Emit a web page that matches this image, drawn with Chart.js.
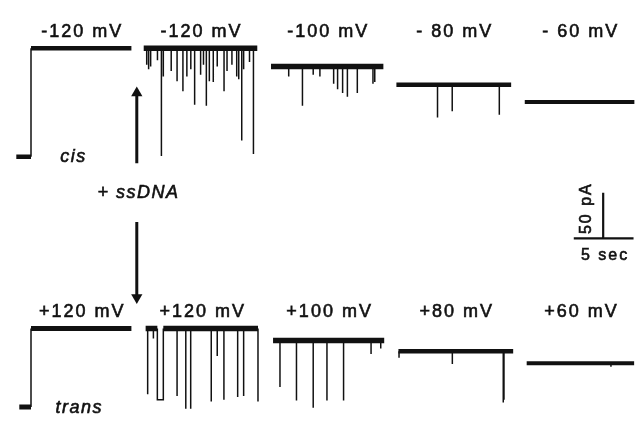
<!DOCTYPE html>
<html>
<head>
<meta charset="utf-8">
<script src="https://cdn.jsdelivr.net/npm/chart.js@4.4.1/dist/chart.umd.min.js"></script>
<style>
  html, body { margin: 0; padding: 0; background: #fff; }
  canvas { display: block; }
</style>
</head>
<body>
<canvas id="traces" width="641" height="428"></canvas>
<script>
// Single-channel current traces, cis (top) and trans (bottom) addition of ssDNA
const cisVoltages = ['-120 mV', '-120 mV', '-100 mV', '- 80 mV', '- 60 mV'];
const transVoltages = ['+120 mV', '+120 mV', '+100 mV', '+80 mV', '+60 mV'];

// open-pore current (pA) and record length (sec)
const cisBaseline = [119, 119, 99, 79, 60];
const transBaseline = [86, 86, 73, 61, 48];
const cisDuration = [8.4, 9.5, 9.4, 9.6, 9.2];
const transDuration = [8.4, 9.4, 9.3, 9.6, 9.0];

// blockade events: [time from record start (sec), blocked current (pA), duration (sec, optional)]
const cisEvents = [
  [],
  [[0.25, 101], [0.41, 96], [0.58, 99], [1.15, 106], [1.48, 1], [1.64, 88], [2.3, 94], [2.79, 83],
   [3.28, 72], [3.61, 88], [3.94, 96], [4.26, 57], [4.76, 90], [5.0, 101], [5.24, 56], [5.49, 83],
   [5.82, 82], [6.15, 99], [6.72, 72], [6.97, 94], [7.38, 101], [7.78, 88], [7.95, 85], [8.2, 18],
   [8.36, 96], [8.85, 104], [9.18, 3]],
  [[1.48, 88], [2.63, 56], [3.53, 90], [4.09, 88], [5.24, 80], [5.57, 74], [5.99, 70], [6.39, 66],
   [7.22, 70], [8.53, 80], [8.68, 82]],
  [[3.44, 43], [4.67, 50], [8.61, 46]],
  []
];
const transEvents = [
  [],
  [[0.17, 14], [0.65, 75], [0.98, 8, 0.5], [2.63, 12], [3.36, -2], [3.77, -2], [5.49, 6],
   [5.99, 56], [6.55, 8], [7.7, 11], [8.2, 12], [9.4, 6]],
  [[0.58, 22], [1.96, 7], [3.36, -1], [4.51, 7], [5.9, 7], [8.2, 58], [9.01, 64]],
  [[0.05, 54], [4.51, 47], [8.77, 5], [8.83, 8]],
  [[7.05, 44]]
];

// scale bar
const barTime = 5;     // sec
const barCurrent = 50; // pA

// layout (sec along the figure, pA on each row's axis)
const cisStart = [2.05, 11.48, 22.13, 32.62, 43.36];
const transStart = [2.05, 11.64, 22.3, 32.79, 43.52];
const cisWidth = [4.5, 5.5, 5.5, 4.5, 4];
const transWidth = [5, 5.5, 5.5, 4.5, 4];
const ink = '#111';

function traceSets(starts, base, dur, events, widths, axis, hold) {
  const sets = [];
  base.forEach((b, i) => {
    const x0 = starts[i];
    const thick = [];
    const thin = [];
    if (i === 0) {
      // closed level before the voltage step
      thick.push({x: x0 - hold, y: 0}, {x: x0, y: 0}, {x: x0, y: null});
      thin.push({x: x0, y: 0}, {x: x0, y: b}, {x: x0, y: null});
    }
    thick.push({x: x0, y: b});
    events[i].forEach(e => {
      const t = x0 + e[0], lvl = e[1], d = e[2] || 0;
      thin.push({x: t, y: b}, {x: t, y: lvl});
      if (d > 0) {
        thin.push({x: t + d, y: lvl}, {x: t + d, y: b});
        thick.push({x: t, y: b}, {x: t, y: null}, {x: t + d, y: b});
      }
      thin.push({x: t, y: null});
    });
    thick.push({x: x0 + dur[i], y: b});
    sets.push({data: thick, yAxisID: axis, borderColor: ink, borderWidth: widths[i],
      showLine: true, pointRadius: 0, spanGaps: false});
    sets.push({data: thin, yAxisID: axis, borderColor: ink, borderWidth: 1.5,
      showLine: true, pointRadius: 0, spanGaps: false});
  });
  return sets;
}

const datasets = [
  ...traceSets(cisStart, cisBaseline, cisDuration, cisEvents, cisWidth, 'yCis', 1.23),
  ...traceSets(transStart, transBaseline, transDuration, transEvents, transWidth, 'yTrans', 0.98),
  // arrows marking ssDNA addition
  {data: [{x: 10.9, y: -7}, {x: 10.9, y: 70}], yAxisID: 'yCis', borderColor: ink, borderWidth: 3,
   showLine: true, pointRadius: [0, 6.5], pointStyle: 'triangle', rotation: 0,
   pointBackgroundColor: ink, pointBorderColor: ink, pointBorderWidth: 0},
  {data: [{x: 10.9, y: 203}, {x: 10.9, y: 120}], yAxisID: 'yTrans', borderColor: ink, borderWidth: 3,
   showLine: true, pointRadius: [0, 6.5], pointStyle: 'triangle', rotation: 180,
   pointBackgroundColor: ink, pointBorderColor: ink, pointBorderWidth: 0},
  // scale bar
  {data: [{x: 47.46, y: 185}, {x: 47.46 + barTime, y: 185}, {x: 49.92, y: null},
          {x: 49.92, y: 185}, {x: 49.92, y: 185 + barCurrent}],
   yAxisID: 'yTrans', borderColor: ink, borderWidth: 2.2, showLine: true, pointRadius: 0, spanGaps: false}
];

function inkText(ctx, s, px, py) {
  ctx.fillText(s, px, py);
  ctx.strokeText(s, px, py);
}

const labelPlugin = {
  id: 'traceLabels',
  afterDatasetsDraw(chart) {
    const {ctx} = chart;
    const x = chart.scales.x, yC = chart.scales.yCis, yT = chart.scales.yTrans;
    ctx.save();
    ctx.fillStyle = ink;
    ctx.strokeStyle = ink;
    ctx.lineWidth = 0.6;
    ctx.textBaseline = 'middle';
    ctx.letterSpacing = '2px';
    ctx.font = '18px "Liberation Sans", Arial, sans-serif';
    ctx.textAlign = 'center';
    cisVoltages.forEach((v, i) => {
      inkText(ctx, v, x.getPixelForValue(cisStart[i] + cisDuration[i] / 2) + 1, yC.getPixelForValue(137));
    });
    transVoltages.forEach((v, i) => {
      inkText(ctx, v, x.getPixelForValue(transStart[i] + transDuration[i] / 2) + 1, yT.getPixelForValue(104));
    });
    ctx.font = 'italic 18px "Liberation Sans", Arial, sans-serif';
    ctx.letterSpacing = '1.5px';
    ctx.textAlign = 'left';
    inkText(ctx, 'cis', x.getPixelForValue(4.5), yC.getPixelForValue(0));
    inkText(ctx, 'trans', x.getPixelForValue(4.1), yT.getPixelForValue(-1));
    inkText(ctx, '+ ssDNA', x.getPixelForValue(7.62), yC.getPixelForValue(-40));
    ctx.font = '16px "Liberation Sans", Arial, sans-serif';
    ctx.textAlign = 'center';
    ctx.letterSpacing = '2px';
    inkText(ctx, barTime + ' sec', x.getPixelForValue(50.0) + 1, yT.getPixelForValue(166));
    ctx.translate(x.getPixelForValue(48.52), yT.getPixelForValue(217));
    ctx.rotate(-Math.PI / 2);
    inkText(ctx, barCurrent + ' pA', 1, 0);
    ctx.restore();
  }
};

new Chart(document.getElementById('traces'), {
  type: 'scatter',
  data: {datasets},
  options: {
    responsive: false,
    animation: false,
    layout: {padding: 0},
    plugins: {legend: {display: false}, tooltip: {enabled: false}},
    elements: {line: {tension: 0, borderCapStyle: 'butt'}},
    scales: {
      x: {type: 'linear', display: false, min: 0, max: 52.54},
      yCis: {type: 'linear', display: false, min: -290.43, max: 164.89},
      yTrans: {type: 'linear', display: false, min: -15.96, max: 439.36}
    }
  },
  plugins: [labelPlugin]
});
</script>
</body>
</html>
